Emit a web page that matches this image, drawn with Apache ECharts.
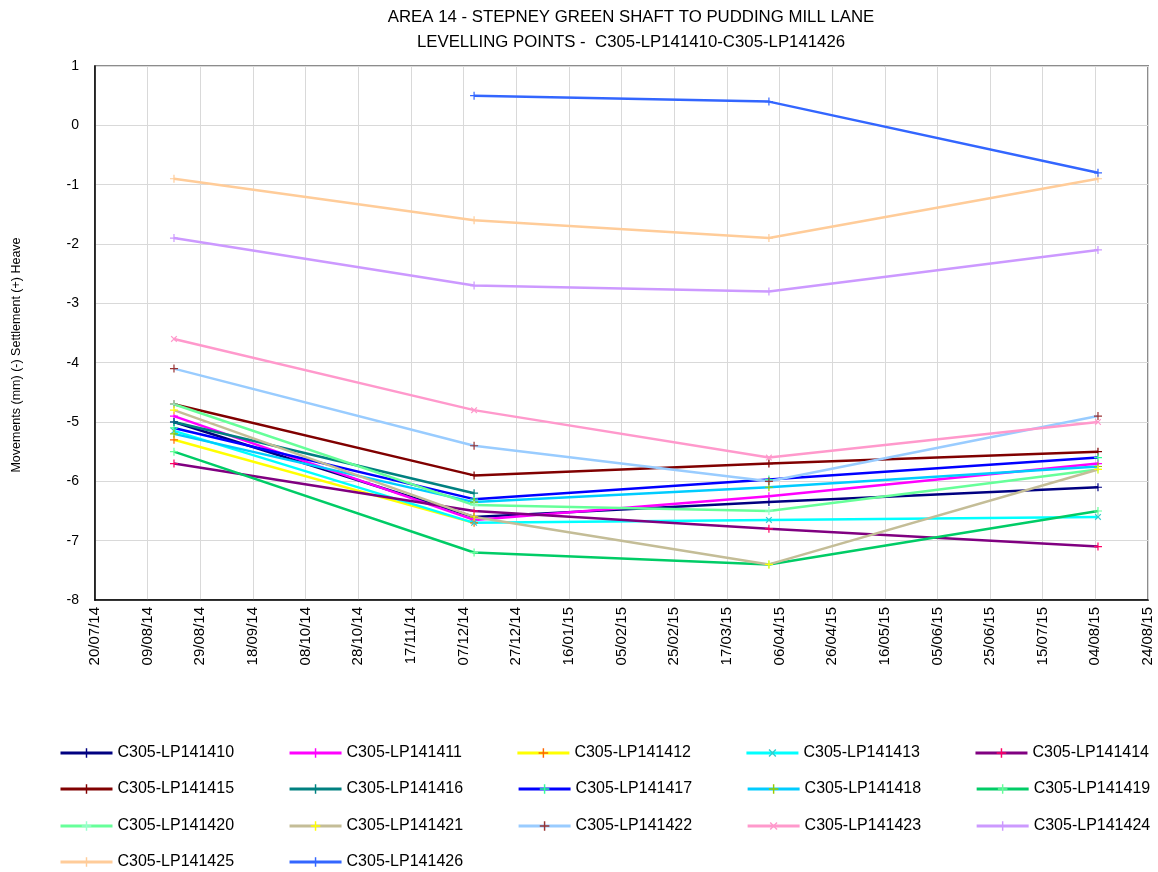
<!DOCTYPE html>
<html>
<head>
<meta charset="utf-8">
<script src="https://cdn.jsdelivr.net/npm/echarts@6/dist/echarts.min.js"></script>
<style>
html,body{margin:0;padding:0;background:#fff;}
#chart{width:1158px;height:872px;}
</style>
</head>
<body>
<div id="chart"></div>
<script>
// ---- data ----
const baseDate = '2014-07-20';
const endDate = '2015-08-24';
const surveyDates = ['2014-08-19', '2014-12-11', '2015-04-02', '2015-08-05'];
const pointNames = [
  'C305-LP141410', 'C305-LP141411', 'C305-LP141412', 'C305-LP141413', 'C305-LP141414',
  'C305-LP141415', 'C305-LP141416', 'C305-LP141417', 'C305-LP141418', 'C305-LP141419',
  'C305-LP141420', 'C305-LP141421', 'C305-LP141422', 'C305-LP141423', 'C305-LP141424',
  'C305-LP141425', 'C305-LP141426'
];
const lp141410 = [-5.0, -6.6, -6.35, -6.1];
const lp141411 = [-4.9, -6.65, -6.25, -5.7];
const lp141412 = [-5.3, -6.7, null, null];
const lp141413 = [-5.15, -6.7, -6.65, -6.6];
const lp141414 = [-5.7, -6.5, -6.8, -7.1];
const lp141415 = [-4.7, -5.9, -5.7, -5.5];
const lp141416 = [-5.0, -6.2, null, null];
const lp141417 = [-5.1, -6.3, -5.97, -5.6];
const lp141418 = [-5.2, -6.35, -6.1, -5.75];
const lp141419 = [-5.5, -7.2, -7.4, -6.5];
const lp141420 = [-4.7, -6.4, -6.5, -5.8];
const lp141421 = [-4.8, -6.6, -7.4, -5.8];
const lp141422 = [-4.1, -5.4, -6.0, -4.9];
const lp141423 = [-3.6, -4.8, -5.6, -5.0];
const lp141424 = [-1.9, -2.7, -2.8, -2.1];
const lp141425 = [-0.9, -1.6, -1.9, -0.9];
const lp141426 = [null, 0.5, 0.4, -0.8];
const seriesValues = [lp141410, lp141411, lp141412, lp141413, lp141414, lp141415, lp141416,
  lp141417, lp141418, lp141419, lp141420, lp141421, lp141422, lp141423, lp141424, lp141425, lp141426];
const titleLines = ['AREA 14 - STEPNEY GREEN SHAFT TO PUDDING MILL LANE',
  'LEVELLING POINTS -  C305-LP141410-C305-LP141426'];
const yAxisTitle = 'Movements (mm) (-) Settlement (+) Heave';

// ---- styles ----
const lineColors = ['#000080', '#ff00ff', '#ffff00', '#00ffff', '#800080',
  '#800000', '#008080', '#0000ff', '#00ccff', '#00cc66',
  '#66ff99', '#c4bd97', '#99ccff', '#ff99cc', '#cc99ff',
  '#ffcc99', '#3366ff'];
const markerColors = ['#000080', '#ff00ff', '#ff6600', '#33cccc', '#ff0066',
  '#800000', '#008080', '#33ff99', '#99cc00', '#66ff99',
  '#99ffcc', '#ffff00', '#993333', '#ff99cc', '#cc99ff',
  '#ffcc99', '#3366ff'];
const PLUS = 'path://M3.4,0h1.2v3.4h3.4v1.2h-3.4v3.4h-1.2v-3.4h-3.4v-1.2h3.4z';
const markerShapes = ['+', '+', '+', 'x', '+', '+', '+', '+', '+', '+',
  '+', '+', '+', 'x', '+', '+', '+'];

const DAY = 86400000;
function toUTC(s) { const p = s.split('-').map(Number); return Date.UTC(p[0], p[1] - 1, p[2]); }
const base = toUTC(baseDate);
const dayOffset = s => Math.round((toUTC(s) - base) / DAY);
const xMax = dayOffset(endDate);
const xOffsets = surveyDates.map(dayOffset);
function fmtDay(v) {
  const d = new Date(base + v * DAY);
  const dd = String(d.getUTCDate()).padStart(2, '0');
  const mm = String(d.getUTCMonth() + 1).padStart(2, '0');
  const yy = String(d.getUTCFullYear() % 100).padStart(2, '0');
  return dd + '/' + mm + '/' + yy;
}

const FONT = '"Liberation Sans", Arial, sans-serif';

const series = pointNames.map((name, i) => ({
  name: name,
  type: 'line',
  data: xOffsets.map((x, j) => [x, seriesValues[i][j]]),
  connectNulls: false,
  symbol: PLUS,
  symbolRotate: markerShapes[i] === 'x' ? 45 : 0,
  symbolSize: 8,
  showAllSymbol: true,
  lineStyle: { color: lineColors[i], width: 2.5 },
  itemStyle: { color: markerColors[i] },
  emphasis: { disabled: true },
  animation: false,
  z: 3
}));

// one horizontal legend per row, 5 items per row
const legendRowTops = [745, 781, 818, 854];
const legends = legendRowTops.map((top, r) => ({
  orient: 'horizontal',
  left: 59,
  top: top,
  padding: 0,
  itemWidth: 52,
  itemHeight: 12,
  itemGap: 54,
  lineStyle: { width: 3 },
  data: pointNames.slice(r * 5, r * 5 + 5),
  textStyle: { fontFamily: FONT, fontSize: 16, color: '#000', lineHeight: 16 },
  selectedMode: false
}));

const chart = echarts.init(document.getElementById('chart'), null, { renderer: 'canvas' });
chart.setOption({
  backgroundColor: '#fff',
  animation: false,
  title: {
    text: titleLines.join('\n'),
    left: 631,
    top: 5,
    padding: 0,
    textAlign: 'center',
    textStyle: { fontFamily: FONT, fontSize: 16.8, fontWeight: 'normal', color: '#000', lineHeight: 25 }
  },
  grid: {
    left: 95, right: 10, top: 66, bottom: 272,
    show: true, borderColor: '#8c8c8c', borderWidth: 2, backgroundColor: 'transparent'
  },
  legend: legends,
  xAxis: {
    type: 'value',
    min: 0, max: xMax, interval: 20,
    axisLine: { show: true, onZero: false, lineStyle: { color: '#000', width: 1.5 } },
    axisTick: { show: false },
    splitLine: { show: true, lineStyle: { color: '#d9d9d9', width: 1 } },
    axisLabel: {
      rotate: 90, margin: 7, fontFamily: FONT, fontSize: 15, color: '#000',
      showMinLabel: true, showMaxLabel: true,
      formatter: v => fmtDay(v)
    }
  },
  yAxis: {
    type: 'value',
    min: -8, max: 1, interval: 1,
    axisLine: { show: true, lineStyle: { color: '#000', width: 1.5 } },
    axisTick: { show: false },
    splitLine: { show: true, lineStyle: { color: '#d9d9d9', width: 1 } },
    axisLabel: { margin: 16, fontFamily: FONT, fontSize: 14, color: '#000' }
  },
  graphic: [{
    type: 'text',
    x: 17, y: 355,
    rotation: Math.PI / 2,
    style: { text: yAxisTitle, fontFamily: FONT, fontSize: 12.5, fill: '#000', textAlign: 'center', textVerticalAlign: 'middle' }
  }],
  series: series
});
</script>
</body>
</html>
